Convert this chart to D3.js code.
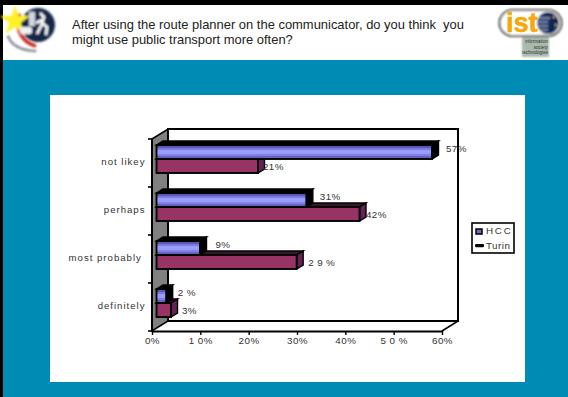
<!DOCTYPE html>
<html>
<head>
<meta charset="utf-8">
<style>
html,body{margin:0;padding:0;background:#fff}
svg{display:block}
text{font-family:"Liberation Sans",Arial,sans-serif;fill:#333;white-space:pre}
</style>
<script src="https://cdn.jsdelivr.net/npm/d3@7"></script>
</head>
<body>
<svg id="slide" width="568" height="397"></svg>
<script>
// Survey answers, in percent
const categories = ["not likey", "perhaps", "most probably ", "definitely"];
const hccValues = [57, 31, 9, 2];
const turinValues = [21, 42, 29, 3];
const hccLabels = ["57%", "31%", "9%", "2 %"];
const turinLabels = ["21%", "42%", "2 9 %", "3%"];
const axisTicks = [0, 10, 20, 30, 40, 50, 60];
const axisTickLabels = ["0%", "1 0%", "20%", "30%", "40%", "5 0 %", "60%"];
const seriesNames = ["HCC", "Turin"];
const titleLines = [
  "After using the route planner on the communicator, do you think  you",
  "might use public transport more often?"
];

const svg = d3.select("#slide");
const defs = svg.append("defs");

const softLogo = defs.append("filter").attr("id", "softLogo");
softLogo.append("feGaussianBlur").attr("stdDeviation", 0.8);
const softWord = defs.append("filter").attr("id", "softWord");
softWord.append("feGaussianBlur").attr("stdDeviation", 0.4);

// Banded shading of the HCC bars
const hccShade = defs.append("linearGradient").attr("id", "hccShade")
  .attr("x1", 0).attr("x2", 0).attr("y1", 0).attr("y2", 1);
[[0, "#5a5ab0"], [0.2, "#5a5ab0"], [0.2, "#7a7ae0"], [0.38, "#7a7ae0"], [0.38, "#9c9cff"],
 [0.65, "#9c9cff"], [0.65, "#8080e8"], [0.82, "#8080e8"], [0.82, "#6464b8"], [1, "#6464b8"]]
  .forEach(([o, c]) => hccShade.append("stop").attr("offset", o).attr("stop-color", c));

// Slide background
svg.append("rect").attr("width", 568).attr("height", 397).attr("fill", "#fff");
svg.append("rect").attr("y", 60).attr("width", 568).attr("height", 337).attr("fill", "#008bb5");
svg.append("rect").attr("width", 568).attr("height", 5).attr("fill", "#000");
svg.append("rect").attr("width", 3).attr("height", 397).attr("fill", "#000");
svg.append("rect").attr("x", 50).attr("y", 95).attr("width", 475).attr("height", 287).attr("fill", "#fff");

// Heading
svg.selectAll("text.title").data(titleLines).join("text")
  .attr("class", "title")
  .attr("x", 72).attr("y", (d, i) => 29 + i * 15)
  .attr("font-size", 12.95).style("fill", "#222")
  .text(d => d);

// Left emblem
const emblem = svg.append("g").attr("filter", "url(#softLogo)");
emblem.append("circle").attr("cx", 38).attr("cy", 25).attr("r", 17).attr("fill", "#12284a");
emblem.append("path").attr("d", "M20 14 A23 23 0 0 0 36 46").attr("fill", "none")
  .attr("stroke", "#c8281e").attr("stroke-width", 3.5);
emblem.append("path")
  .attr("d", d3.symbol().type(d3.symbolStar).size(280)())
  .attr("transform", "translate(15,21)").attr("fill", "#fff02a");
emblem.append("rect").attr("x", 20).attr("y", 27).attr("width", 12).attr("height", 7).attr("rx", 2).attr("fill", "#eef0f2");
emblem.append("path").attr("d", "M29 12h6v14h-6z").attr("fill", "#cfd6de");
emblem.append("path").attr("d", "M40 13l4 4 -2 6 5 4 -1 8M42 20l-6 3M42 24l-5 10")
  .attr("fill", "none").attr("stroke", "#fff").attr("stroke-width", 2.6);
emblem.append("path").attr("d", "M8 36 Q13 50 36 51").attr("fill", "none")
  .attr("stroke", "#556070").attr("stroke-width", 2.4).attr("stroke-dasharray", "2.4 0.8");

// Right emblem
const istLogo = svg.append("g");
const istSoft = istLogo.append("g").attr("filter", "url(#softLogo)");
istSoft.append("rect").attr("x", 522).attr("y", 37).attr("width", 27).attr("height", 20).attr("fill", "#a9b9ad");
istSoft.append("rect").attr("x", 499.5).attr("y", 10).attr("width", 62).attr("height", 26).attr("rx", 13)
  .attr("fill", "#fff").attr("stroke", "#000").attr("stroke-width", 1.7);
istSoft.append("circle").attr("cx", 548).attr("cy", 23).attr("r", 11).attr("fill", "#10265a");
istSoft.append("path").attr("d", "M538 18h12M537 22h11M537 26h11M540 30h8").attr("stroke", "#dfe8f4").attr("stroke-width", 1.2);
istSoft.append("circle").attr("cx", 554).attr("cy", 17).attr("r", 1).attr("fill", "#ffd23c");
istSoft.append("circle").attr("cx", 556).attr("cy", 25).attr("r", 1).attr("fill", "#ffd23c");
istLogo.append("text").attr("x", 506).attr("y", 32).attr("font-size", 27).attr("font-weight", "bold")
  .attr("filter", "url(#softWord)")
  .style("fill", "#f7a80f").style("stroke", "#f7a80f").style("stroke-width", 0.6).text("ist");
istLogo.selectAll("text.sub").data(["information", "society", "technologies"]).join("text")
  .attr("class", "sub")
  .attr("x", 548).attr("y", (d, i) => 43 + i * 5.5)
  .attr("text-anchor", "end").attr("font-size", 4.6).style("fill", "#333").text(d => d);

// Scales for the front plane of the 3D plot
const x = d3.scaleLinear().domain([0, 60]).range([152, 442]);
const band = d3.scaleBand().domain(categories).range([139, 331])
  .paddingInner(20 / 48).paddingOuter(10 / 48).align(0.3);
const seriesBand = d3.scaleBand().domain(seriesNames).range([0, band.bandwidth()]);

const wallDepth = [16, -10];
const barDepth = [6.5, -4];
const barInset = 4.5;
const [xLeft, xRight] = x.range();
const [yTop, yBottom] = band.range();

const plot = svg.append("g");

// Side wall and back frame
plot.append("path")
  .attr("d", d3.line()([[xLeft, yTop], [xLeft + wallDepth[0], yTop + wallDepth[1]],
    [xLeft + wallDepth[0], yBottom + wallDepth[1]], [xLeft, yBottom]]) + "Z")
  .attr("fill", "#808080").attr("stroke", "#000").attr("stroke-width", 1.5);
plot.append("path")
  .attr("d", d3.line()([[xLeft + wallDepth[0], yBottom + wallDepth[1]], [xLeft + wallDepth[0], yTop + wallDepth[1]],
    [xRight + wallDepth[0], yTop + wallDepth[1]], [xRight + wallDepth[0], yBottom + wallDepth[1]],
    [xLeft + wallDepth[0], yBottom + wallDepth[1]]]))
  .attr("fill", "none").attr("stroke", "#000").attr("stroke-width", 2);
plot.append("path")
  .attr("d", d3.line()([[xRight, yBottom], [xRight + wallDepth[0], yBottom + wallDepth[1]]]))
  .attr("stroke", "#000").attr("stroke-width", 1.5);

// One 3D bar: top face, side face, front face
function drawBar(g, value, y0, h, front, top, side) {
  const x1 = x(value) + barInset;
  const x0 = xLeft + barInset;
  const [dx, dy] = barDepth;
  g.append("path").attr("d", d3.line()([[x0, y0], [x0 + dx, y0 + dy], [x1 + dx, y0 + dy], [x1, y0]]) + "Z")
    .attr("fill", top).attr("stroke", "#000").attr("stroke-width", 1.4);
  g.append("path").attr("d", d3.line()([[x1, y0], [x1 + dx, y0 + dy], [x1 + dx, y0 + h + dy], [x1, y0 + h]]) + "Z")
    .attr("fill", side).attr("stroke", "#000").attr("stroke-width", 1.4);
  g.append("rect").attr("x", x0).attr("y", y0).attr("width", x1 - x0).attr("height", h)
    .attr("fill", front).attr("stroke", "#000").attr("stroke-width", 1.9);
}

const groups = plot.selectAll("g.group").data(categories).join("g").attr("class", "group");
groups.each(function (c, i) {
  const g = d3.select(this);
  drawBar(g, turinValues[i], band(c) + seriesBand("Turin"), seriesBand.bandwidth(), "#993366", "#3c1430", "#662255");
  drawBar(g, hccValues[i], band(c) + seriesBand("HCC"), seriesBand.bandwidth(), "url(#hccShade)", "#000", "#000");
});

// Value labels beside the bars
const hccLabelGap = [14, 13.5, 15.5, 11.5];
const turinLabelGap = [5, 6.5, 11.5, 11];
const valueLabels = plot.append("g").attr("font-size", 9.8).style("letter-spacing", "0.4px");
valueLabels.selectAll("text.hcc").data(hccLabels).join("text").attr("class", "hcc")
  .attr("x", (d, i) => x(hccValues[i]) + barInset + hccLabelGap[i])
  .attr("y", (d, i) => band(categories[i]) + 6.5)
  .text(d => d);
valueLabels.selectAll("text.turin").data(turinLabels).join("text").attr("class", "turin")
  .attr("x", (d, i) => x(turinValues[i]) + barInset + turinLabelGap[i])
  .attr("y", (d, i) => band(categories[i]) + 24.5)
  .text(d => d);

// Category axis: ticks sit on the band boundaries
const yStep = band.step();
const categoryTicks = d3.range(categories.length + 1).map(i => yTop + i * yStep);
plot.append("path").attr("d", d3.line()([[xLeft, yTop], [xLeft, yBottom]])).attr("stroke", "#000").attr("stroke-width", 2);
plot.selectAll("line.ytick").data(categoryTicks).join("line").attr("class", "ytick")
  .attr("x1", xLeft - 4).attr("x2", xLeft).attr("y1", d => d).attr("y2", d => d)
  .attr("stroke", "#000").attr("stroke-width", 1.6);
plot.selectAll("text.cat").data(categories).join("text").attr("class", "cat")
  .attr("x", xLeft - 6.5).attr("y", d => band(d) + band.bandwidth() / 2 + 6)
  .attr("text-anchor", "end").attr("font-size", 9.6).style("letter-spacing", "1px")
  .text(d => d);

// Percentage axis along the front floor edge
const xAxis = d3.axisBottom(x).tickValues(axisTicks).tickSize(4).tickSizeOuter(0)
  .tickFormat((d, i) => axisTickLabels[i]);
const xAxisG = plot.append("g").attr("transform", `translate(0,${yBottom})`).call(xAxis);
xAxisG.select(".domain").attr("stroke", "#000").attr("stroke-width", 2);
xAxisG.selectAll(".tick line").attr("stroke", "#000").attr("stroke-width", 1.4);
xAxisG.selectAll(".tick text").attr("font-size", 9.8).attr("dy", "0.6em")
  .style("letter-spacing", "0.5px").style("fill", "#333");

// Legend
const legend = svg.append("g").attr("transform", "translate(472,223)");
legend.append("rect").attr("width", 42).attr("height", 30).attr("fill", "#fff")
  .attr("stroke", "#000").attr("stroke-width", 1.6);
legend.append("rect").attr("x", 4).attr("y", 6).attr("width", 6).attr("height", 5)
  .attr("fill", "#6a6ad0").attr("stroke", "#000").attr("stroke-width", 1.5);
legend.append("rect").attr("x", 3).attr("y", 21).attr("width", 9).attr("height", 3.2).attr("rx", 1.2).attr("fill", "#000");
legend.selectAll("text").data(seriesNames).join("text")
  .attr("x", 14).attr("y", (d, i) => 11 + i * 15)
  .attr("font-size", 9.8)
  .style("letter-spacing", (d, i) => i === 0 ? "1.8px" : "0.5px")
  .text(d => d);
</script>
</body>
</html>
